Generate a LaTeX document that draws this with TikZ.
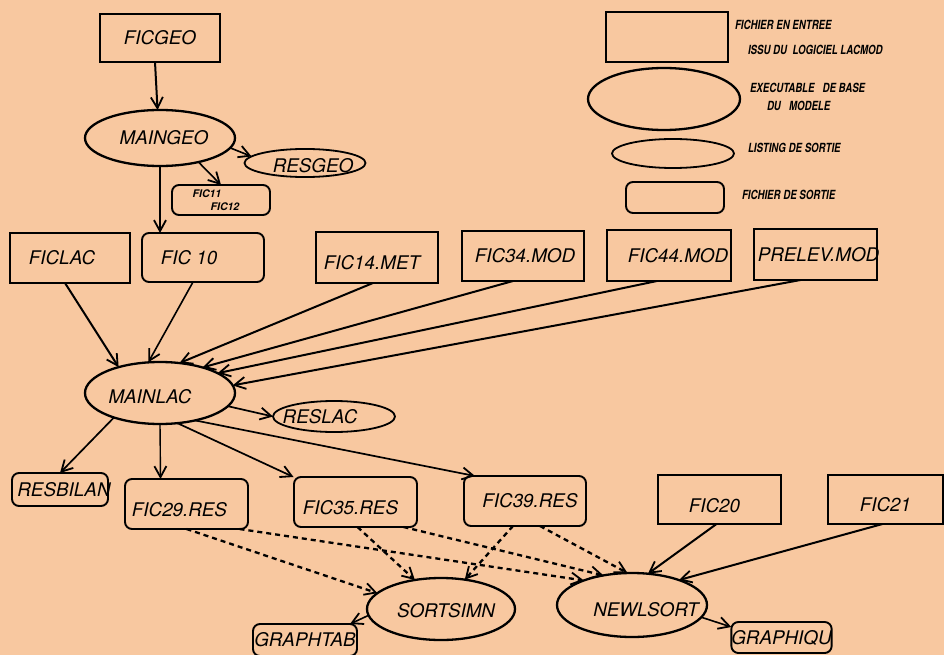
\documentclass[tikz,border=0pt]{standalone}
\usepackage{fontspec}
\setmainfont{TeX Gyre Heros}
\usetikzlibrary{arrows.meta,shapes.geometric}
\definecolor{paper}{RGB}{248,200,160}
% move a label sideways inside its shape without changing its box width
\newcommand\slideby[2]{\hspace*{#1}#2\hspace*{-#1}}
% move a label down inside its shape by padding the box above it
\newcommand\lowerby[2]{\rule{0pt}{\dimexpr13.5pt+#1*2\relax}#2}
% narrow, tall lettering of the key
\newcommand\keytext[1]{\scalebox{0.92}[1.2]{#1}}

\begin{document}
\begin{tikzpicture}[x=1pt,y=-1pt,
  every node/.style={inner sep=0pt, outer sep=0pt,
    font=\fontsize{18.8}{22}\selectfont\itshape},
  infile/.style={draw, line width=2.3pt, rectangle},
  outfile/.style={draw, line width=1.9pt, rectangle, rounded corners=7pt},
  prog/.style={draw, line width=2.3pt, ellipse},
  listing/.style={draw, line width=1.8pt, ellipse},
  legtext/.style={anchor=west, font=\fontsize{10.5}{12}\selectfont\bfseries\itshape},
  flow/.style={line width=2pt,
    -{Straight Barb[length=11pt,width=12pt,line width=1.8pt]}},
  thinflow/.style={flow, line width=1.4pt},
  dflow/.style={line width=2.3pt, dash pattern=on 5pt off 4pt,
    -{Straight Barb[length=11pt,width=12pt,line width=1.8pt]}}
]
\fill[paper] (0,0) rectangle (944,655);
\useasboundingbox (0,0) rectangle (944,655);

% ---- legend ----
\node[infile, minimum width=122pt, minimum height=50pt] (legin) at (667,37) {};
\node[prog, minimum width=152pt, minimum height=62pt] (legexe) at (664,99) {};
\node[listing, minimum width=122pt, minimum height=29pt] (leglist) at (673,153.5) {};
\node[outfile, minimum width=98pt, minimum height=31pt] (legout) at (675,197.5) {};
\node[legtext] (legta) at (735,25) {\keytext{FICHIER EN ENTREE}};
\node[legtext] (legtb) at (748,50) {\keytext{ISSU DU\ \ LOGICIEL LACMOD}};
\node[legtext] (legtc) at (750,88) {\keytext{EXECUTABLE\ \ \ DE BASE}};
\node[legtext] (legtd) at (767,106) {\keytext{DU\ \ \ MODELE}};
\node[legtext] (legte) at (748,148) {\keytext{LISTING DE SORTIE}};
\node[legtext] (legtf) at (742,195) {\keytext{FICHIER DE SORTIE}};

% ---- geometry stage ----
\node[infile, minimum width=120pt, minimum height=48pt] (ficgeo) at (160,38) {FICGEO};
\node[prog, minimum width=150pt, minimum height=56pt] (maingeo) at (160,138) {\slideby{4pt}{MAINGEO}};
\node[listing, minimum width=121pt, minimum height=27pt] (resgeo) at (305,163) {\slideby{8pt}{\lowerby{3pt}{RESGEO}}};
\node[outfile, minimum width=98pt, minimum height=30pt, align=left,
  font=\fontsize{10.5}{13}\selectfont\bfseries\itshape] (fic1112) at (221,200)
  {\slideby{-5pt}{FIC11}\\\slideby{-5pt}{\hspace*{18pt}FIC12}};

% ---- lake stage inputs ----
\node[infile, minimum width=120pt, minimum height=50pt] (ficlac) at (70,258) {\slideby{-8pt}{FICLAC}};
\node[outfile, minimum width=122pt, minimum height=49pt] (fic10) at (203,257.5) {\slideby{-14pt}{FIC 10}};
\node[infile, minimum width=122pt, minimum height=51pt] (fic14) at (377,257.5) {\slideby{-5pt}{\lowerby{5pt}{FIC14.MET}}};
\node[infile, minimum width=122pt, minimum height=50pt] (fic34) at (523,256) {\slideby{2pt}{FIC34.MOD}};
\node[infile, minimum width=124pt, minimum height=51pt] (fic44) at (669,255.5) {\slideby{9pt}{FIC44.MOD}};
\node[infile, minimum width=123pt, minimum height=51pt] (prelev) at (815.5,254.5) {\slideby{3pt}{PRELEV.MOD}};

% ---- lake model ----
\node[prog, minimum width=150pt, minimum height=62pt] (mainlac) at (160,393) {\slideby{-10pt}{\lowerby{4pt}{MAINLAC}}};
\node[listing, minimum width=122pt, minimum height=31pt] (reslac) at (334,416.5) {\slideby{-14pt}{RESLAC}};

% ---- results ----
\node[outfile, minimum width=96pt, minimum height=33pt] (resbilan) at (60,489.5) {\slideby{4pt}{RESBILAN}};
\node[outfile, minimum width=123pt, minimum height=50pt] (fic29) at (186.5,504) {\slideby{-7pt}{\lowerby{6pt}{FIC29.RES}}};
\node[outfile, minimum width=123pt, minimum height=50pt] (fic35) at (355.5,502) {\slideby{-5pt}{\lowerby{6pt}{FIC35.RES}}};
\node[outfile, minimum width=122pt, minimum height=50pt] (fic39) at (525,501) {\slideby{5pt}{FIC39.RES}};
\node[infile, minimum width=123pt, minimum height=49pt] (fic20) at (719.5,499.5) {\slideby{-5pt}{\lowerby{6pt}{FIC20}}};
\node[infile, minimum width=115pt, minimum height=49pt] (fic21) at (885.5,499.5) {\lowerby{5pt}{FIC21}};

% ---- post-processing ----
\node[prog, minimum width=148pt, minimum height=62pt] (sortsimn) at (441,609) {\slideby{5pt}{\lowerby{2pt}{SORTSIMN}}};
\node[prog, minimum width=150pt, minimum height=64pt] (newlsort) at (632,605) {\slideby{14pt}{\lowerby{5pt}{NEWLSORT}}};
\node[outfile, minimum width=104pt, minimum height=32pt] (graphtab) at (305,640) {GRAPHTAB};
\node[outfile, minimum width=97pt, minimum height=31pt] (graphiqu) at (781.5,637.5) {GRAPHIQU};

% ---- connectors: geometry ----
\draw[flow] ([xshift=-5pt]ficgeo.south) -- (maingeo.95);
\draw[flow, line width=1.6pt] (maingeo.-8) -- (resgeo.173);
\draw[flow, line width=1.6pt] (maingeo.-32) -- (fic1112.north);
\draw[thinflow] (maingeo.south) -- ([xshift=-43pt]fic10.north);

% ---- connectors: into MAINLAC ----
\draw[flow] ([xshift=-5pt]ficlac.south) -- (mainlac.148);
\draw[thinflow, line width=1.6pt] ([xshift=-10pt]fic10.south) -- (mainlac.111);
\draw[flow] ([xshift=-4pt]fic14.south) -- (mainlac.57);
\draw[flow] ([xshift=-10pt]fic34.south) -- (mainlac.31);
\draw[flow] ([xshift=-12pt]fic44.south) -- (mainlac.19);
\draw[flow] ([xshift=-15pt]prelev.south) -- (mainlac.6);

% ---- connectors: out of MAINLAC ----
\draw[flow, line width=1.7pt] (mainlac.-11) -- (reslac.west);
\draw[flow, line width=1.7pt] (mainlac.208) -- (resbilan.north);
\draw[thinflow] (mainlac.south) -- ([xshift=-26pt]fic29.north);
\draw[flow, line width=1.7pt] (mainlac.-60) -- ([xshift=-62pt]fic35.north);
\draw[flow, line width=1.7pt] (mainlac.-38) -- ([xshift=-50pt]fic39.north);

% ---- connectors: results to post-processing ----
\draw[dflow] (fic29.south) -- (sortsimn.166);
\draw[dflow] ([xshift=53pt]fic29.south) -- (newlsort.153);
\draw[dflow] ([xshift=2pt]fic35.south) -- (sortsimn.132);
\draw[dflow] ([xshift=48pt]fic35.south) -- (newlsort.134);
\draw[dflow] ([xshift=-12pt]fic39.south) -- (sortsimn.51);
\draw[dflow] ([xshift=15pt]fic39.south) -- (newlsort.98);
\draw[flow] ([xshift=-3pt]fic20.south) -- (newlsort.63);
\draw[flow] ([xshift=-3pt]fic21.south) -- (newlsort.28);
\draw[flow, line width=1.6pt] (sortsimn.185) -- ([xshift=45pt]graphtab.north);
\draw[flow, line width=1.6pt] (newlsort.-10) -- ([yshift=-5pt]graphiqu.north west);
\end{tikzpicture}
\end{document}
